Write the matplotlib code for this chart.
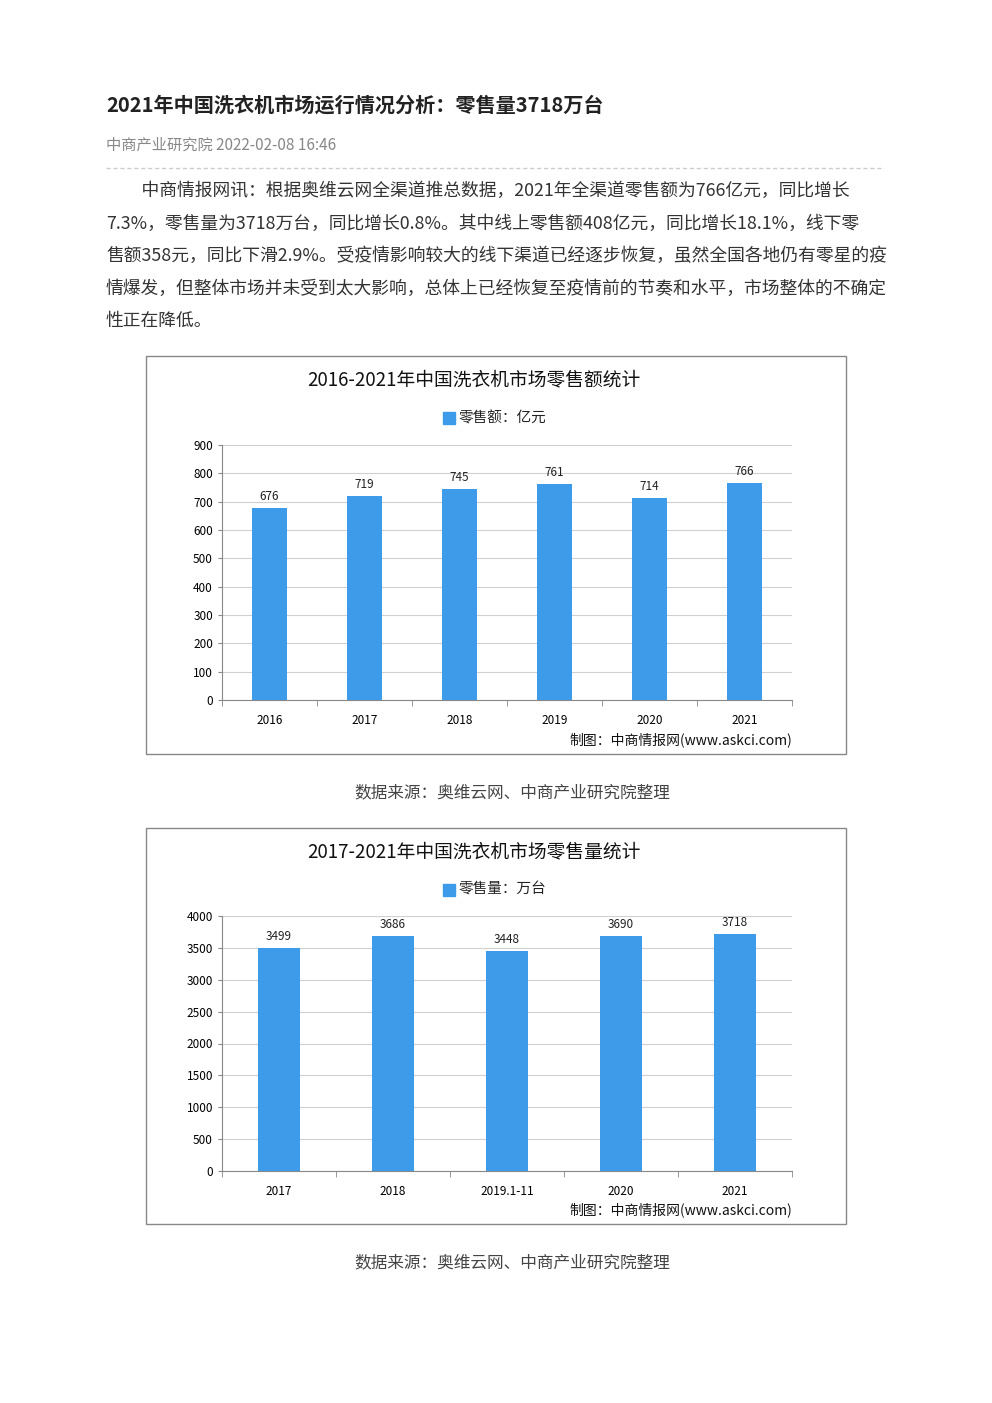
import matplotlib
matplotlib.use("Agg")
import matplotlib.pyplot as plt
from matplotlib.patches import Rectangle
from matplotlib.lines import Line2D

plt.rcParams['font.family'] = ['Noto Sans CJK SC', 'DejaVu Sans']

years1 = ["2016", "2017", "2018", "2019", "2020", "2021"]
sales1 = [676, 719, 745, 761, 714, 766]
years2 = ["2017", "2018", "2019.1-11", "2020", "2021"]
sales2 = [3499, 3686, 3448, 3690, 3718]

W, H = 992, 1403
fig = plt.figure(figsize=(W/100, H/100), dpi=100)
fig.patch.set_facecolor('white')

def fx(x): return x / W
def fy(y): return 1 - y / H

fig.text(fx(106), fy(105), "2021年中国洗衣机市场运行情况分析：零售量3718万台", fontsize=14.5,
         fontweight='bold', color='#222222', va='center')
fig.text(fx(106), fy(145), "中商产业研究院 2022-02-08 16:46", fontsize=11, color='#888888', va='center')
fig.add_artist(Line2D([fx(106), fx(884)], [fy(168), fy(168)], color='#cccccc', lw=1, ls=(0, (3, 2))))

body = ["　　中商情报网讯：根据奥维云网全渠道推总数据，2021年全渠道零售额为766亿元，同比增长",
        "7.3%，零售量为3718万台，同比增长0.8%。其中线上零售额408亿元，同比增长18.1%，线下零",
        "售额358元，同比下滑2.9%。受疫情影响较大的线下渠道已经逐步恢复，虽然全国各地仍有零星的疫",
        "情爆发，但整体市场并未受到太大影响，总体上已经恢复至疫情前的节奏和水平，市场整体的不确定",
        "性正在降低。"]
for i, line in enumerate(body):
    fig.text(fx(106), fy(191 + i * 32.5), line, fontsize=12.8, color='#333333', va='center')

def chart(box_top, box_bot, ax_top, ax_bot, cats, vals, ymax, step, title, legend, src_y):
    fig.add_artist(Rectangle((fx(146), fy(box_bot)), fx(846) - fx(146), fy(box_top) - fy(box_bot),
                             fill=False, ec='#888888', lw=1))
    ax = fig.add_axes([fx(222), fy(ax_bot), fx(792) - fx(222), fy(ax_top) - fy(ax_bot)])
    x = range(len(cats))
    ax.bar(x, vals, width=0.37, color='#3d9bea', zorder=3)
    for xi, v in zip(x, vals):
        ax.text(xi, v + ymax * 0.02, str(v), ha='center', va='bottom', fontsize=8.5, color='#222222')
    ax.set_ylim(0, ymax)
    ax.set_xlim(-0.5, len(cats) - 0.5)
    ax.set_yticks(range(0, ymax + 1, step))
    ax.yaxis.grid(True, color='#d0d0d0', lw=0.8, zorder=0)
    ax.set_xticks(list(x))
    ax.set_xticklabels(cats)
    ax.set_xticks([i - 0.5 for i in range(len(cats) + 1)], minor=True)
    ax.tick_params(axis='x', which='major', length=0, labelsize=8.5, pad=10)
    ax.tick_params(axis='x', which='minor', length=4, color='#888888')
    ax.tick_params(axis='y', labelsize=8.5, length=3, color='#888888')
    for s in ['top', 'right']:
        ax.spines[s].set_visible(False)
    ax.spines['left'].set_color('#888888')
    ax.spines['bottom'].set_color('#888888')
    fig.text(fx(474), fy(box_top + 24), title, fontsize=13.5, ha='center', va='center', color='#111111')
    fig.add_artist(Rectangle((fx(443), fy(box_top + 68)), fx(12) - fx(0), fy(0) - fy(12), color='#3d9bea'))
    fig.text(fx(458), fy(box_top + 62), legend, fontsize=10.5, va='center', color='#222222')
    fig.text(fx(792), fy(box_bot - 14), "制图：中商情报网(www.askci.com)", fontsize=10, ha='right',
             va='center', color='#111111')
    fig.text(fx(512), fy(src_y), "数据来源：奥维云网、中商产业研究院整理", fontsize=12, ha='center',
             va='center', color='#444444')

chart(356, 754, 445, 700, years1, sales1, 900, 100,
      "2016-2021年中国洗衣机市场零售额统计", "零售额：亿元", 793)
chart(828, 1224, 916, 1171, years2, sales2, 4000, 500,
      "2017-2021年中国洗衣机市场零售量统计", "零售量：万台", 1263)

fig.savefig("out.png", dpi=100, facecolor='white')
